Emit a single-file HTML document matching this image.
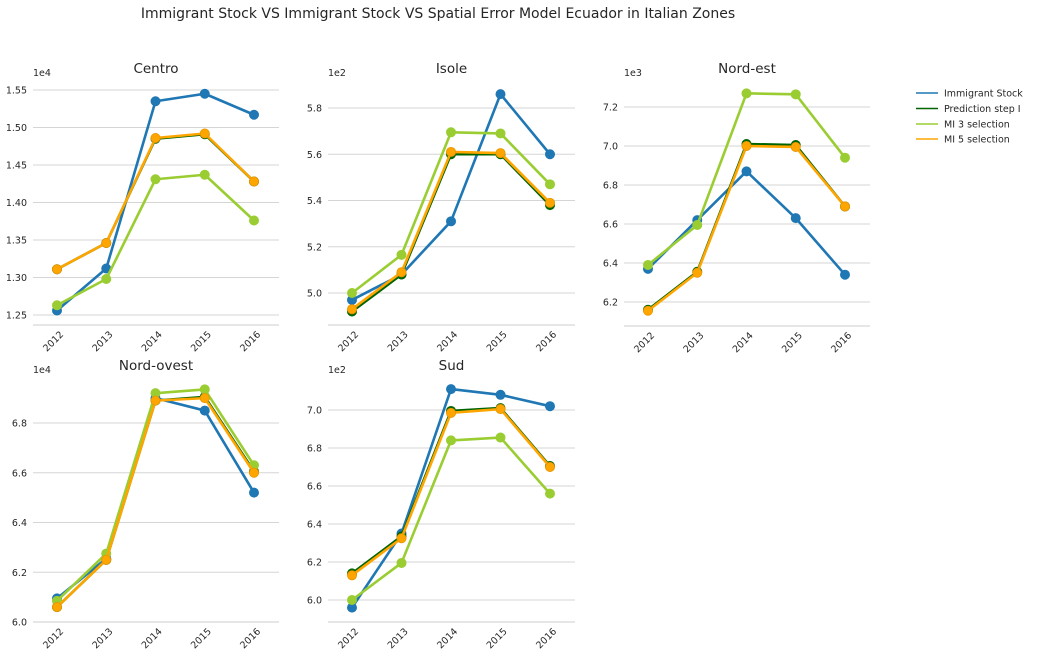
<!DOCTYPE html>
<html><head><meta charset="utf-8"><style>
body{margin:0;background:#fff;font-family:"DejaVu Sans",sans-serif;}
svg text{font-family:"DejaVu Sans","Liberation Sans",sans-serif;fill:#262626;}
</style></head><body>
<svg id="chart" width="1037" height="658" viewBox="0 0 1037 658" xmlns="http://www.w3.org/2000/svg">
<text x="438" y="18" font-size="14" text-anchor="middle">Immigrant Stock VS Immigrant Stock VS Spatial Error Model Ecuador in Italian Zones</text>
<g>
<line x1="916" y1="93" x2="938" y2="93" stroke="#1f77b4" stroke-width="1.5"/><text x="944" y="96.5" font-size="9.5">Immigrant Stock</text>
<line x1="916" y1="108.5" x2="938" y2="108.5" stroke="#006400" stroke-width="1.5"/><text x="944" y="112" font-size="9.5">Prediction step I</text>
<line x1="916" y1="124" x2="938" y2="124" stroke="#9acd32" stroke-width="1.5"/><text x="944" y="127.5" font-size="9.5">MI 3 selection</text>
<line x1="916" y1="139" x2="938" y2="139" stroke="#ffa500" stroke-width="1.5"/><text x="944" y="142.5" font-size="9.5">MI 5 selection</text>
</g>
</svg>
<script>
const years=["2012","2013","2014","2015","2016"];
const seriesNames=["Immigrant Stock","Prediction step I","MI 3 selection","MI 5 selection"];
const centroBlue=[1.256,1.312,1.535,1.545,1.517];
const centroDark=[1.311,1.346,1.485,1.491,1.428];
const centroLight=[1.263,1.298,1.431,1.437,1.376];
const centroOrange=[1.311,1.346,1.486,1.492,1.428];
const isoleBlue=[4.97,5.08,5.31,5.86,5.60];
const isoleDark=[4.92,5.08,5.60,5.60,5.38];
const isoleLight=[5.00,5.165,5.695,5.69,5.47];
const isoleOrange=[4.93,5.09,5.61,5.605,5.39];
const neBlue=[6.37,6.62,6.87,6.63,6.34];
const neDark=[6.16,6.355,7.01,7.005,6.69];
const neLight=[6.39,6.595,7.27,7.265,6.94];
const neOrange=[6.155,6.35,7.0,6.995,6.69];
const noBlue=[6.095,6.255,6.90,6.85,6.52];
const noDark=[6.06,6.25,6.89,6.905,6.605];
const noLight=[6.085,6.275,6.92,6.935,6.63];
const noOrange=[6.06,6.25,6.89,6.90,6.60];
const sudBlue=[5.96,6.35,7.11,7.08,7.02];
const sudDark=[6.14,6.335,6.995,7.01,6.705];
const sudLight=[6.00,6.195,6.84,6.855,6.56];
const sudOrange=[6.13,6.325,6.985,7.005,6.70];
const centroTicks=["1.25","1.30","1.35","1.40","1.45","1.50","1.55"];
const isoleTicks=["5.0","5.2","5.4","5.6","5.8"];
const neTicks=["6.2","6.4","6.6","6.8","7.0","7.2"];
const noTicks=["6.0","6.2","6.4","6.6","6.8"];
const sudTicks=["6.0","6.2","6.4","6.6","6.8","7.0"];

const colors=["#1f77b4","#006400","#9acd32","#ffa500"];
const NS="http://www.w3.org/2000/svg";
const svg=document.getElementById('chart');
function mk(tag,attrs,parent){const e=document.createElementNS(NS,tag);for(const k in attrs)e.setAttribute(k,attrs[k]);parent.appendChild(e);return e;}

const panels=[
 {name:"Centro",mult:"1e4",L:33,R:279,bottom:325,titleY:73,v0:1.25,p0:315,v1:1.55,p1:90,ticks:centroTicks,data:[centroBlue,centroDark,centroLight,centroOrange]},
 {name:"Isole",mult:"1e2",L:328,R:575,bottom:325,titleY:73,v0:5.0,p0:293,v1:5.8,p1:108,ticks:isoleTicks,data:[isoleBlue,isoleDark,isoleLight,isoleOrange]},
 {name:"Nord-est",mult:"1e3",L:624,R:870,bottom:326,titleY:73,v0:6.2,p0:302,v1:7.2,p1:107,ticks:neTicks,data:[neBlue,neDark,neLight,neOrange]},
 {name:"Nord-ovest",mult:"1e4",L:33,R:279,bottom:622,titleY:370,v0:6.0,p0:622,v1:6.8,p1:423,ticks:noTicks,data:[noBlue,noDark,noLight,noOrange]},
 {name:"Sud",mult:"1e2",L:328,R:575,bottom:622,titleY:370,v0:6.0,p0:600,v1:7.0,p1:410,ticks:sudTicks,data:[sudBlue,sudDark,sudLight,sudOrange]}
];
panels.forEach(p=>{
 const g=mk('g',{},svg);
 
 
 const yScale=v=>p.p0+(v-p.v0)*(p.p1-p.p0)/(p.v1-p.v0);
 const x0=p.L+24, x1=p.R-25;
 const xScale=i=>x0+i*(x1-x0)/(years.length-1);
 p.ticks.forEach(t=>{
  const y=yScale(parseFloat(t));
  const gl=mk('line',{x1:p.L,x2:p.R,y1:y,y2:y,stroke:"#d5d5d5","stroke-width":1},g);
  
  
  const tl=mk('text',{x:p.L-6,y:y+3.5,"font-size":9.5,"text-anchor":"end"},g);
  tl.textContent=t;
  
  
 });
 const sp=mk('line',{x1:p.L,x2:p.R,y1:p.bottom,y2:p.bottom,stroke:"#cccccc","stroke-width":1},g);
 
 
 const ti=mk('text',{x:(p.L+p.R)/2,y:p.titleY,"font-size":13.5,"text-anchor":"middle"},g);
 ti.textContent=p.name;
 
 
 const mu=mk('text',{x:p.L,y:p.titleY+3,"font-size":9.5},g);
 mu.textContent=p.mult;
 
 
 years.forEach((yr,i)=>{
  const x=xScale(i), y=p.bottom+10;
  const t=mk('text',{x:x+7,y:y,"font-size":9.5,"text-anchor":"end",transform:`rotate(-45 ${x+7} ${y})`},g);
  t.textContent=yr;
  
  
 });
 p.data.forEach((arr,si)=>{
  const pts=arr.map((v,i)=>xScale(i)+','+yScale(v)).join(' ');
  const l=mk('polyline',{points:pts,fill:"none",stroke:colors[si],"stroke-width":2.6,"stroke-linejoin":"round"},g);
  
  
  arr.forEach((v,i)=>{
   const c=mk('circle',{cx:xScale(i),cy:yScale(v),r:4.6,fill:colors[si],stroke:si==3?"#e69500":colors[si],"stroke-width":0.8},g);
   
   
  });
 });
});
</script>
</body></html>
